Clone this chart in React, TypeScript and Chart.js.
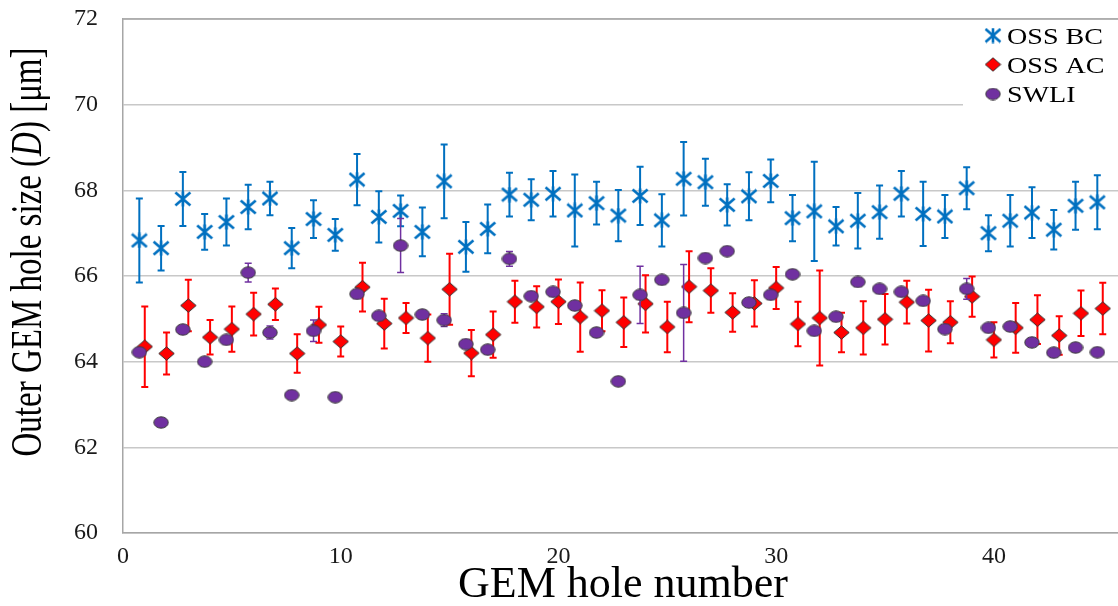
import React, { useEffect, useRef } from 'react';
import { Chart, registerables } from 'chart.js';

Chart.register(...registerables);

// ---------- data ----------
const holeNumbers = [
  1, 2, 3, 4, 5, 6, 7, 8, 9, 10, 11, 12, 13, 14, 15, 16, 17, 18, 19, 20, 21, 22, 23,
  24, 25, 26, 27, 28, 29, 30, 31, 32, 33, 34, 35, 36, 37, 38, 39, 40, 41, 42, 43, 44, 45,
];

const ossBC = [
  66.83, 66.65, 67.8, 67.03, 67.26, 67.61, 67.81, 66.65, 67.33, 66.96, 68.25, 67.38, 67.52,
  67.03, 68.21, 66.68, 67.1, 67.9, 67.78, 67.92, 67.53, 67.7, 67.41, 67.87, 67.3, 68.27,
  68.19, 67.66, 67.86, 68.22, 67.35, 67.51, 67.16, 67.29, 67.49, 67.92, 67.45, 67.39, 68.05,
  67.0, 67.29, 67.48, 67.08, 67.64, 67.72,
];
const ossBCErr = [
  0.98, 0.52, 0.63, 0.42, 0.55, 0.52, 0.39, 0.47, 0.44, 0.37, 0.6, 0.6, 0.36, 0.57, 0.86,
  0.58, 0.57, 0.51, 0.48, 0.53, 0.84, 0.5, 0.6, 0.68, 0.61, 0.86, 0.55, 0.48, 0.56, 0.5,
  0.54, 1.16, 0.45, 0.65, 0.62, 0.53, 0.75, 0.5, 0.49, 0.42, 0.6, 0.59, 0.46, 0.56, 0.63,
];

const ossAC = [
  64.35, 64.19, 65.31, 64.57, 64.76, 65.11, 65.34, 64.19, 64.86, 64.47, 65.74, 64.89, 65.02,
  64.55, 65.69, 64.2, 64.63, 65.4, 65.28, 65.4, 65.04, 65.19, 64.92, 65.35, 64.81, 65.75,
  65.66, 65.15, 65.36, 65.72, 64.88, 65.02, 64.68, 64.79, 64.99, 65.39, 64.96, 64.92, 65.52,
  64.51, 64.79, 64.98, 64.61, 65.13, 65.24,
];
const ossACErr = [
  0.94, 0.49, 0.6, 0.4, 0.53, 0.5, 0.37, 0.45, 0.42, 0.35, 0.57, 0.58, 0.35, 0.55, 0.83,
  0.54, 0.54, 0.49, 0.48, 0.52, 0.81, 0.48, 0.58, 0.67, 0.59, 0.83, 0.52, 0.45, 0.54, 0.49,
  0.52, 1.11, 0.46, 0.62, 0.59, 0.5, 0.72, 0.49, 0.47, 0.41, 0.58, 0.57, 0.45, 0.53, 0.6,
];

const swli = [
  64.22, 62.58, 64.75, 64.0, 64.51, 66.08, 64.68, 63.22, 64.72, 63.17, 65.58, 65.07, 66.71,
  65.1, 64.97, 64.41, 64.28, 66.4, 65.53, 65.63, 65.31, 64.68, 63.54, 65.56, 65.91, 65.14,
  66.42, 66.58, 65.38, 65.56, 66.04, 64.72, 65.05, 65.86, 65.7, 65.63, 65.42, 64.76, 65.7,
  64.79, 64.82, 64.45, 64.21, 64.33, 64.22,
];
const swliErr = [
  0, 0, 0, 0, 0, 0.22, 0.15, 0, 0.25, 0, 0, 0, 0.63, 0, 0.15, 0, 0, 0.17, 0, 0, 0, 0, 0,
  0.67, 0, 1.13, 0, 0, 0, 0, 0, 0, 0, 0, 0, 0, 0, 0, 0.24, 0, 0, 0, 0, 0, 0,
];

const seriesNames = ['OSS BC', 'OSS AC', 'SWLI'];
const xTicks = [0, 10, 20, 30, 40];
const yTicks = [60, 62, 64, 66, 68, 70, 72];
const xTitle = 'GEM hole number';
const yTitleParts = ['Outer GEM hole size (', 'D', ') [\u03bcm]'];

// ---------- styles ----------
const BLUE = '#0070C0';
const RED = '#FF0000';
const PURPLE = '#7030A0';
const SERIF = '"Liberation Serif", "Times New Roman", serif';
const MEAS_SHIFT = 0.25; // OSS BC and SWLI markers drawn slightly left of the hole number

function makeStar(w: number, h: number, lw: number) {
  const c = document.createElement('canvas');
  c.width = w;
  c.height = h;
  const g = c.getContext('2d')!;
  g.strokeStyle = BLUE;
  g.lineWidth = lw;
  g.lineCap = 'butt';
  g.beginPath();
  g.moveTo(1.5, 1.5);
  g.lineTo(w - 1.5, h - 1.5);
  g.moveTo(w - 1.5, 1.5);
  g.lineTo(1.5, h - 1.5);
  g.moveTo(w / 2, 0.5);
  g.lineTo(w / 2, h - 0.5);
  g.stroke();
  return c;
}

function makeDiamond(w: number, h: number) {
  const c = document.createElement('canvas');
  c.width = w;
  c.height = h;
  const g = c.getContext('2d')!;
  g.fillStyle = RED;
  g.strokeStyle = '#333333';
  g.lineWidth = 1;
  g.beginPath();
  g.moveTo(w / 2, 0.8);
  g.lineTo(w - 0.8, h / 2);
  g.lineTo(w / 2, h - 0.8);
  g.lineTo(0.8, h / 2);
  g.closePath();
  g.fill();
  g.stroke();
  return c;
}

function makeEllipse(w: number, h: number) {
  const c = document.createElement('canvas');
  c.width = w;
  c.height = h;
  const g = c.getContext('2d')!;
  g.fillStyle = PURPLE;
  g.strokeStyle = '#3d3d3d';
  g.lineWidth = 1;
  g.beginPath();
  g.ellipse(w / 2, h / 2, w / 2 - 0.8, h / 2 - 0.8, 0, 0, Math.PI * 2);
  g.fill();
  g.stroke();
  return c;
}

export default function App() {
  const ref = useRef<HTMLCanvasElement | null>(null);

  useEffect(() => {
    document.body.style.margin = '0';
    const canvas = ref.current!;

    const star = makeStar(18, 16, 2.6);
    const diamond = makeDiamond(17, 15);
    const ellipse = makeEllipse(16, 13);
    const markers = [star, diamond, ellipse];

    const errorBars = {
      id: 'errorBars',
      beforeDatasetDraw(chart: any, args: any) {
        const ds = chart.data.datasets[args.index];
        if (!ds.errValues) return;
        const ctx = chart.ctx;
        const ys = chart.scales.y;
        const cap = 3.5;
        ctx.save();
        ctx.strokeStyle = ds.errColor;
        ctx.lineWidth = ds.errWidth;
        args.meta.data.forEach((pt: any, i: number) => {
          const e = ds.errValues[i];
          if (!e) return;
          const v = ds.data[i].y;
          const top = ys.getPixelForValue(v + e);
          const bot = ys.getPixelForValue(v - e);
          const x = pt.x;
          ctx.beginPath();
          ctx.moveTo(x, top);
          ctx.lineTo(x, bot);
          ctx.moveTo(x - cap, top);
          ctx.lineTo(x + cap, top);
          ctx.moveTo(x - cap, bot);
          ctx.lineTo(x + cap, bot);
          ctx.stroke();
        });
        ctx.restore();
      },
    };

    const decorations = {
      id: 'decorations',
      afterDraw(chart: any) {
        const ctx = chart.ctx;
        const area = chart.chartArea;
        ctx.save();
        // top border of the plot area
        ctx.strokeStyle = '#a6a6a6';
        ctx.lineWidth = 1.5;
        ctx.beginPath();
        ctx.moveTo(area.left, area.top);
        ctx.lineTo(area.right, area.top);
        ctx.stroke();

        // legend box
        ctx.fillStyle = '#ffffff';
        ctx.fillRect(963, area.top + 1.5, area.right - 963, 96);
        const rowY = [35.5, 64.5, 94];
        seriesNames.forEach((name, i) => {
          const m = markers[i];
          ctx.drawImage(m, 993 - m.width / 2, rowY[i] - m.height / 2);
          ctx.save();
          ctx.translate(1007, rowY[i] + 8);
          ctx.scale(1.17, 1);
          ctx.fillStyle = '#000000';
          ctx.font = `24px ${SERIF}`;
          ctx.textBaseline = 'alphabetic';
          ctx.textAlign = 'left';
          ctx.fillText(name, 0, 0);
          ctx.restore();
        });

        // x title
        ctx.fillStyle = '#000000';
        ctx.font = `44px ${SERIF}`;
        ctx.textAlign = 'center';
        ctx.textBaseline = 'alphabetic';
        ctx.fillText(xTitle, 623, 597);

        // y title (rotated, condensed along its length)
        ctx.save();
        ctx.translate(41, 252);
        ctx.rotate(-Math.PI / 2);
        ctx.scale(0.75, 1);
        const fonts = [`44px ${SERIF}`, `italic 44px ${SERIF}`, `44px ${SERIF}`];
        const widths = yTitleParts.map((p, i) => {
          ctx.font = fonts[i];
          return ctx.measureText(p).width;
        });
        const total = widths.reduce((a, b) => a + b, 0);
        let x = -total / 2;
        ctx.textAlign = 'left';
        yTitleParts.forEach((p, i) => {
          ctx.font = fonts[i];
          ctx.fillText(p, x, 0);
          x += widths[i];
        });
        ctx.restore();
        ctx.restore();
      },
    };

    const chart = new Chart(canvas, {
      type: 'scatter',
      data: {
        datasets: [
          {
            label: seriesNames[0],
            data: holeNumbers.map((h, i) => ({ x: h - MEAS_SHIFT, y: ossBC[i] })),
            pointStyle: star,
            pointRadius: 8,
            order: 3,
            errValues: ossBCErr,
            errColor: BLUE,
            errWidth: 2,
          } as any,
          {
            label: seriesNames[1],
            data: holeNumbers.map((h, i) => ({ x: h, y: ossAC[i] })),
            pointStyle: diamond,
            pointRadius: 8,
            order: 2,
            errValues: ossACErr,
            errColor: RED,
            errWidth: 2,
          } as any,
          {
            label: seriesNames[2],
            data: holeNumbers.map((h, i) => ({ x: h - MEAS_SHIFT, y: swli[i] })),
            pointStyle: ellipse,
            pointRadius: 8,
            order: 1,
            errValues: swliErr,
            errColor: PURPLE,
            errWidth: 1.5,
          } as any,
        ],
      },
      options: {
        responsive: false,
        animation: false,
        devicePixelRatio: 1,
        layout: { autoPadding: false, padding: { top: 19, left: 0, right: 0, bottom: 0 } },
        plugins: {
          legend: { display: false },
          tooltip: { enabled: false },
        },
        scales: {
          x: {
            type: 'linear',
            min: 0,
            max: 45.7,
            afterBuildTicks: (s: any) => {
              s.ticks = xTicks.map((v) => ({ value: v }));
            },
            afterFit: (s: any) => {
              s.height = 73;
              s.paddingLeft = 0;
              s.paddingRight = 0;
            },
            grid: { display: false, drawTicks: false },
            border: { display: true, color: '#a6a6a6', width: 1.5 },
            ticks: {
              padding: 9,
              autoSkip: false,
              maxRotation: 0,
              color: '#1a1a1a',
              font: { family: SERIF, size: 24 },
            },
          },
          y: {
            type: 'linear',
            min: 60,
            max: 72,
            afterBuildTicks: (s: any) => {
              s.ticks = yTicks.map((v) => ({ value: v }));
            },
            afterFit: (s: any) => {
              s.width = 123;
              s.paddingTop = 0;
              s.paddingBottom = 0;
            },
            grid: { color: '#c8c8c8', lineWidth: 1.5, drawTicks: false },
            border: { display: true, color: '#a6a6a6', width: 1.5 },
            ticks: {
              padding: 25,
              color: '#1a1a1a',
              font: { family: SERIF, size: 24 },
            },
          },
        },
      } as any,
      plugins: [errorBars, decorations],
    });

    return () => {
      chart.destroy();
    };
  }, []);

  return (
    <div style={{ width: 1118, height: 606, position: 'relative', background: '#ffffff' }}>
      <canvas ref={ref} width={1118} height={606} style={{ display: 'block' }} />
    </div>
  );
}
